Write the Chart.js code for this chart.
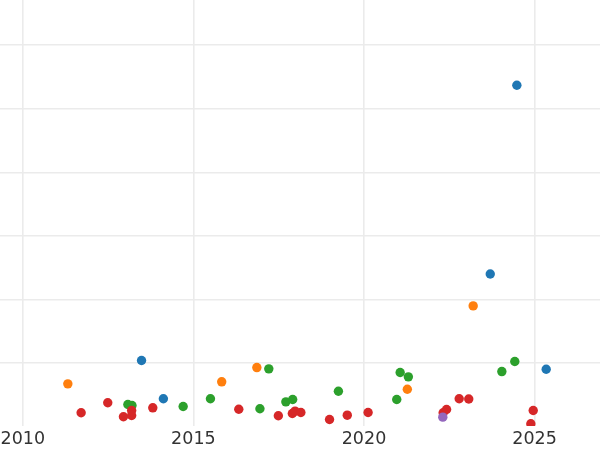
<!DOCTYPE html>
<html>
<head>
<meta charset="utf-8">
<script src="https://cdn.jsdelivr.net/npm/chart.js@4"></script>
<style>
  html, body { margin: 0; padding: 0; background: #fff; }
  #wrap { width: 600px; height: 450px; }
</style>
</head>
<body>
<div id="wrap"><canvas id="chart" width="600" height="450"></canvas></div>
<script>
// points per group: year, value
const blueX = [2024.48, 2023.70, 2013.48, 2014.12, 2025.34];
const blueY = [5.37, 2.40, 1.04, 0.438, 0.903];

const orangeX = [2011.32, 2023.20, 2015.83, 2016.86, 2021.27];
const orangeY = [0.673, 1.899, 0.705, 0.929, 0.588];

const greenX = [2013.08, 2013.20, 2014.70, 2015.50, 2016.95, 2017.21, 2017.71, 2017.91,
                2019.25, 2020.96, 2021.06, 2021.30, 2024.04, 2024.42];
const greenY = [0.348, 0.332, 0.317, 0.438, 0.281, 0.909, 0.390, 0.427,
                0.557, 0.427, 0.851, 0.783, 0.866, 1.024];

const redX = [2011.71, 2012.49, 2012.95, 2013.19, 2013.19, 2013.81, 2016.33, 2017.49,
              2017.90, 2017.98, 2018.15, 2018.99, 2019.51, 2020.12, 2022.32, 2022.42,
              2022.79, 2023.07, 2024.96, 2024.89];
const redY = [0.218, 0.375, 0.155, 0.254, 0.175, 0.296, 0.274, 0.171,
              0.207, 0.243, 0.222, 0.112, 0.180, 0.222, 0.218, 0.270,
              0.438, 0.434, 0.254, 0.045];

const purpleX = [2022.31];
const purpleY = [0.149];

const xTicks = [2010, 2015, 2020, 2025];
const yTicks = [1, 2, 3, 4, 5, 6];

function pts(xs, ys) {
    return xs.map((x, i) => ({ x: x, y: ys[i] }));
}

function makeSet(label, xs, ys, color, order) {
    return {
        label: label,
        data: pts(xs, ys),
        backgroundColor: color,
        borderColor: color,
        borderWidth: 0,
        pointRadius: 4.7,
        pointHoverRadius: 4.7,
        order: order,
        clip: 0
    };
}

const ctx = document.getElementById('chart').getContext('2d');
new Chart(ctx, {
    type: 'scatter',
    data: {
        datasets: [
            makeSet('blue', blueX, blueY, '#1f77b4', 5),
            makeSet('orange', orangeX, orangeY, '#ff7f0e', 4),
            makeSet('green', greenX, greenY, '#2ca02c', 3),
            makeSet('red', redX, redY, '#d62728', 2),
            makeSet('purple', purpleX, purpleY, '#9467bd', 1)
        ]
    },
    options: {
        responsive: false,
        animation: false,
        layout: { padding: 0, autoPadding: false },
        plugins: {
            legend: { display: false },
            tooltip: { enabled: false }
        },
        scales: {
            x: {
                type: 'linear',
                min: 2009.332,
                max: 2026.917,
                afterBuildTicks: function(scale) {
                    scale.ticks = xTicks.map(v => ({ value: v }));
                },
                // invisible tick marks push the labels down a little
                grid: { color: '#ebebeb', lineWidth: 1.6, drawTicks: true, tickLength: 3, tickColor: 'rgba(0,0,0,0)' },
                border: { display: false },
                ticks: {
                    padding: 0,
                    maxRotation: 0,
                    color: '#333333',
                    font: { family: 'DejaVu Sans', size: 17.5, lineHeight: 1.2 },
                    callback: v => String(v)
                }
            },
            y: {
                min: 0.01,
                max: 6.71,
                afterBuildTicks: function(scale) {
                    scale.ticks = yTicks.map(v => ({ value: v }));
                },
                grid: { color: '#ebebeb', lineWidth: 1.6, drawTicks: false },
                border: { display: false },
                ticks: { display: false }
            }
        }
    }
});
</script>
</body>
</html>
